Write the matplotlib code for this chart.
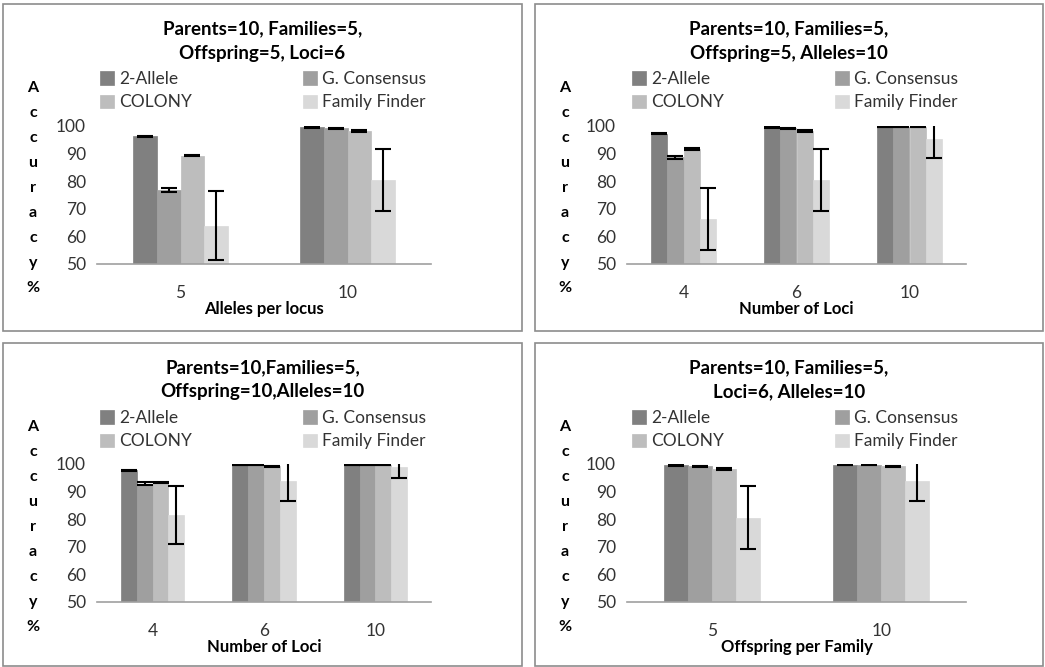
import matplotlib
matplotlib.use('Agg')
import matplotlib.pyplot as plt
from matplotlib.patches import Rectangle
import numpy as np

plt.rcParams['font.family'] = ['Lato', 'DejaVu Sans']

methods = ['2-Allele', 'G. Consensus', 'COLONY', 'Family Finder']
colors = ['#808080', '#9f9f9f', '#bdbdbd', '#d9d9d9']

# panel 1: alleles per locus
alleles_cats = ['5', '10']
alleles_vals = [[96.3, 99.6], [76.9, 99.1], [89.3, 98.1], [63.9, 80.5]]
alleles_err = [[0.2, 0.2], [0.8, 0.2], [0.3, 0.3], [12.4, 11.3]]

# panel 2: number of loci, offspring=5
loci5_cats = ['4', '6', '10']
loci5_vals = [[97.2, 99.6, 99.7], [88.6, 99.1, 99.7], [91.8, 98.1, 99.7], [66.2, 80.5, 95.3]]
loci5_err = [[0.2, 0.2, 0.1], [0.4, 0.2, 0.1], [0.4, 0.3, 0.1], [11.3, 11.3, 7.0]]

# panel 3: number of loci, offspring=10
loci10_cats = ['4', '6', '10']
loci10_vals = [[97.7, 99.7, 99.7], [92.9, 99.7, 99.7], [93.2, 99.2, 99.7], [81.5, 94.0, 98.9]]
loci10_err = [[0.2, 0.1, 0.1], [0.4, 0.1, 0.1], [0.2, 0.2, 0.1], [10.4, 7.5, 4.0]]

# panel 4: offspring per family
offs_cats = ['5', '10']
offs_vals = [[99.6, 99.7], [99.1, 99.7], [98.2, 99.2], [80.6, 94.0]]
offs_err = [[0.2, 0.1], [0.2, 0.1], [0.3, 0.2], [11.3, 7.5]]

panels = [
    ('Parents=10, Families=5,\nOffspring=5, Loci=6', 'Alleles per locus', alleles_cats, alleles_vals, alleles_err),
    ('Parents=10, Families=5,\nOffspring=5, Alleles=10', 'Number of Loci', loci5_cats, loci5_vals, loci5_err),
    ('Parents=10,Families=5,\nOffspring=10,Alleles=10', 'Number of Loci', loci10_cats, loci10_vals, loci10_err),
    ('Parents=10, Families=5,\nLoci=6, Alleles=10', 'Offspring per Family', offs_cats, offs_vals, offs_err),
]

W, H = 1045, 667
fig = plt.figure(figsize=(W / 100, H / 100), dpi=100)

# pixel layout: (box left, box top, box right, box bottom, axes left, axes right, axes top, axes bottom)
layout = [
    (3, 4, 522, 331, 97, 431, 126, 264),
    (535, 4, 1043, 331, 627, 966, 126, 264),
    (3, 343, 522, 666, 97, 431, 464, 602),
    (535, 343, 1043, 666, 627, 966, 464, 602),
]

w = 0.142
for (title, xlab, cats, vals, errs), (bl, bt, br, bb, al, ar, at, ab) in zip(panels, layout):
    fig.add_artist(Rectangle((bl / W, 1 - bb / H), (br - bl) / W, (bb - bt) / H,
                             transform=fig.transFigure, fill=False,
                             edgecolor='#8c8c8c', linewidth=1.2))
    ax = fig.add_axes([al / W, 1 - ab / H, (ar - al) / W, (ab - at) / H])
    x = np.arange(len(cats))
    bars = []
    for i in range(4):
        b = ax.bar(x + (i - 1.5) * w, vals[i], w, color=colors[i], label=methods[i],
                   edgecolor=colors[i], linewidth=0.5,
                   yerr=errs[i], capsize=6,
                   error_kw=dict(ecolor='black', elinewidth=1.5, capthick=1.5))
        bars.append(b)
    ax.set_ylim(50, 100)
    ax.set_xlim(-0.5, len(cats) - 0.5)
    ax.set_yticks([50, 60, 70, 80, 90, 100])
    ax.set_xticks(x)
    ax.set_xticklabels(cats)
    for s in ['top', 'right', 'left']:
        ax.spines[s].set_visible(False)
    ax.spines['bottom'].set_color('#a0a0a0')
    ax.spines['bottom'].set_linewidth(1.2)
    ax.tick_params(axis='x', length=0, pad=15, labelsize=12.5, labelcolor='#333333')
    ax.tick_params(axis='y', length=0, pad=8, labelsize=12.5, labelcolor='#333333')
    ax.set_xlabel(xlab, fontsize=12, fontweight='bold', labelpad=0)

    cx = (bl + br) / 2
    fig.text(cx / W, 1 - (bt + 37) / H, title, ha='center', va='center',
             fontsize=13.5, fontweight='bold', linespacing=1.5)
    fig.text((bl + 30) / W, 1 - (bt + 184) / H, '\n'.join('Accuracy%'),
             ha='center', va='center', fontsize=11.5, fontweight='bold', linespacing=2.0)

    order = [0, 2, 1, 3]
    ax.legend([bars[k] for k in order], [methods[k] for k in order], ncol=2,
              loc='upper left', bbox_to_anchor=((bl + 97) / W, 1 - (bt + 67) / H),
              bbox_transform=fig.transFigure, frameon=False, fontsize=12.5,
              handlelength=0.8, handleheight=0.8, handletextpad=0.3,
              columnspacing=6.4, labelspacing=0.42, borderpad=0, borderaxespad=0,
              labelcolor='#333333')

fig.savefig('out.png', dpi=100)
